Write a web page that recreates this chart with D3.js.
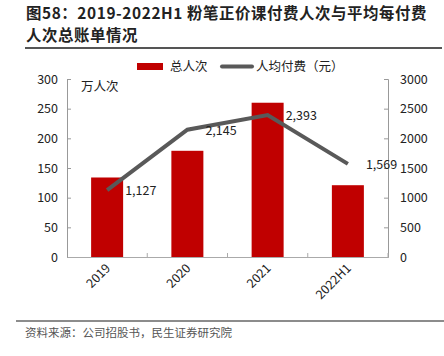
<!DOCTYPE html>
<html><head><meta charset="utf-8">
<script src="https://cdn.jsdelivr.net/npm/d3@7"></script>
<style>body{margin:0;background:#fff;} text{font-family:"Noto Sans CJK SC","Noto Sans",sans-serif;}</style>
</head><body>
<script>
const categories = ["2019","2020","2021","2022H1"];
const totalPeople = [134, 179, 260, 121];
const avgPay = [1127, 2145, 2393, 1569];
const leftTicks = [0,50,100,150,200,250,300];
const rightTicks = [0,500,1000,1500,2000,2500,3000];

const W=444,H=356;
const svg=d3.select("body").append("svg").attr("width",W).attr("height",H);
const m={l:67,r:388,t:79,b:257};
const x=d3.scaleBand().domain(categories).range([m.l,m.r]).paddingInner(0).paddingOuter(0);
const yL=d3.scaleLinear().domain([0,300]).range([m.b,m.t]);
const yR=d3.scaleLinear().domain([0,3000]).range([m.b,m.t]);

// title
const title=svg.append("g").attr("font-weight","bold").attr("font-size",15.4).attr("letter-spacing","0.6px").attr("fill","#222");
title.append("text").attr("x",26).attr("y",18.5).text("图58：2019-2022H1 粉笔正价课付费人次与平均每付费");
title.append("text").attr("x",26).attr("y",41).text("人次总账单情况");
svg.append("line").attr("x1",25).attr("x2",442).attr("y1",48).attr("y2",48).attr("stroke","#555").attr("stroke-width",2);

// bars
const bw=32;
svg.selectAll("rect.bar").data(totalPeople).join("rect").attr("class","bar")
 .attr("x",(d,i)=>x(categories[i])+x.bandwidth()/2-bw/2).attr("width",bw)
 .attr("y",d=>yL(d)).attr("height",d=>m.b-yL(d)).attr("fill","#c00000");

// axes
const lAxis=svg.append("g").attr("transform",`translate(${m.l},0)`).call(d3.axisLeft(yL).tickValues(leftTicks).tickSize(-4).tickPadding(9).tickFormat(d3.format("d")));
const rAxis=svg.append("g").attr("transform",`translate(${m.r},0)`).call(d3.axisRight(yR).tickValues(rightTicks).tickSize(-4).tickPadding(12).tickFormat(d3.format("d")));
const bAxis=svg.append("g").attr("transform",`translate(0,${m.b})`).call(d3.axisBottom(x).tickSize(0).tickFormat(""));
[lAxis,rAxis].forEach(g=>{g.select(".domain").attr("stroke","#999");g.selectAll("line").attr("stroke","#999");
 g.selectAll("text").attr("font-size",12.5).attr("fill","#222").attr("font-family","'Noto Sans CJK SC',sans-serif");});
bAxis.select(".domain").attr("stroke","#aaa");
svg.selectAll("line.ct").data(categories).join("line").attr("class","ct")
 .attr("x1",d=>x(d)+x.bandwidth()).attr("x2",d=>x(d)+x.bandwidth()).attr("y1",m.b).attr("y2",m.b-4).attr("stroke","#aaa");
svg.selectAll("text.xl").data(categories).join("text").attr("class","xl")
 .attr("transform",d=>`translate(${x(d)+x.bandwidth()/2+4},${m.b+12}) rotate(-45)`)
 .attr("text-anchor","end").attr("font-size",12.5).attr("fill","#222").text(d=>d);

// line
const pts=avgPay.map((d,i)=>[x(categories[i])+x.bandwidth()/2,yR(d)]);
svg.append("path").attr("d",d3.line()(pts)).attr("fill","none").attr("stroke","#595959").attr("stroke-width",4);
svg.selectAll("text.dl").data(avgPay).join("text").attr("class","dl")
 .attr("x",(d,i)=>pts[i][0]+18).attr("y",(d,i)=>pts[i][1]+5)
 .attr("font-size",12.5).attr("fill","#222").text(d=>d3.format(",")(d));

// unit
svg.append("text").attr("x",81).attr("y",91).attr("font-size",12.5).attr("fill","#222").text("万人次");

// legend
svg.append("rect").attr("x",137).attr("y",63).attr("width",26).attr("height",7).attr("fill","#c00000");
svg.append("text").attr("x",170).attr("y",71).attr("font-size",12.5).attr("fill","#222").text("总人次");
svg.append("line").attr("x1",222).attr("x2",252).attr("y1",66.5).attr("y2",66.5).attr("stroke","#595959").attr("stroke-width",4).attr("stroke-linecap","round");
svg.append("text").attr("x",256).attr("y",71).attr("font-size",12.5).attr("fill","#222").text("人均付费（元）");

// footer
svg.append("line").attr("x1",16).attr("x2",444).attr("y1",321).attr("y2",321).attr("stroke","#666").attr("stroke-width",1.5);
svg.append("text").attr("x",25).attr("y",337).attr("font-size",11.5).attr("fill","#555").text("资料来源：公司招股书，民生证券研究院");
</script>
</body></html>
